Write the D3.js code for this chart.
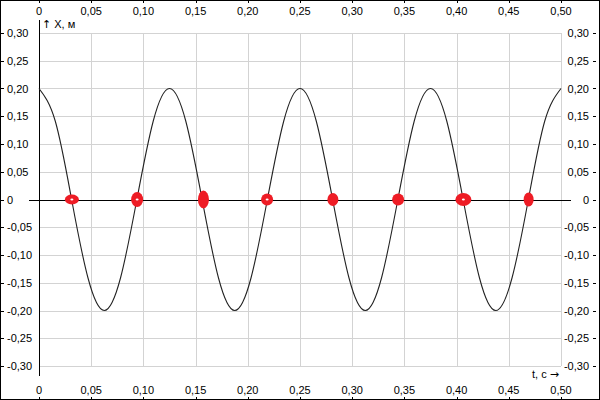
<!DOCTYPE html>
<html><head><meta charset="utf-8">
<script src="https://cdn.jsdelivr.net/npm/d3@7"></script>
<style>
html,body{margin:0;padding:0;background:#fff;}
svg{display:block;}
text{font-family:"Liberation Sans",Arial,sans-serif;font-size:11px;fill:#000;}
tspan.arrow{font-family:"DejaVu Sans",sans-serif;font-size:11px;}
</style></head>
<body>
<svg id="chart" width="600" height="400"></svg>
<script>
// ---- data ----
const xTickLabels = ["0","0,05","0,10","0,15","0,20","0,25","0,30","0,35","0,40","0,45","0,50"];
const xTicks = [0,0.05,0.10,0.15,0.20,0.25,0.30,0.35,0.40,0.45,0.50];
const yTickLabels = ["0,30","0,25","0,20","0,15","0,10","0,05","0","-0,05","-0,10","-0,15","-0,20","-0,25","-0,30"];
const yTicks = [0.30,0.25,0.20,0.15,0.10,0.05,0,-0.05,-0.10,-0.15,-0.20,-0.25,-0.30];
const curveT = [0,0.015625,0.03125,0.046875,0.0625,0.078125,0.09375,0.109375,
  0.125,0.140625,0.15625,0.171875,0.1875,0.203125,0.21875,0.234375,
  0.25,0.265625,0.28125,0.296875,0.3125,0.328125,0.34375,0.359375,
  0.375,0.390625,0.40625,0.421875,0.4375,0.453125,0.46875,0.484375,0.5];
const curveX = [0.20,0.141,0,-0.141,-0.20,-0.141,0,0.141,
  0.20,0.141,0,-0.141,-0.20,-0.141,0,0.141,
  0.20,0.141,0,-0.141,-0.20,-0.141,0,0.141,
  0.20,0.141,0,-0.141,-0.20,-0.141,0,0.141,0.20];
const dotT = [0.0315,0.0940,0.1575,0.2185,0.2815,0.3440,0.4065,0.4690];
const dotX = [0,0,0,0,0,0,0,0];
const xAxisTitle = ["t, c ", "\u2192"];
const yAxisTitle = ["\u2191", " X, м"];

// ---- styling (not data) ----
const dotRx = [7,6,5.5,6,5.5,6,8,5];
const dotRy = [5,7.5,9,6,6.5,6,6.5,7];
const dotHole = [true,true,false,true,false,false,true,false];

const svg = d3.select("#chart");
const W = 600, H = 400;
const x = d3.scaleLinear().domain([0,0.5]).range([39,561]);
const y = d3.scaleLinear().domain([-0.3,0.3]).range([366,33]);

svg.append("rect").attr("x",0.5).attr("y",0.5).attr("width",W-1).attr("height",H-1)
  .attr("fill","#fff").attr("stroke","#000");

// gridlines
const grid = svg.append("g").attr("stroke","#d3d3d3").attr("stroke-width",1).attr("shape-rendering","crispEdges");
grid.selectAll("line.v").data(xTicks).join("line").attr("class","v")
  .attr("x1",d=>Math.round(x(d))+0.5).attr("x2",d=>Math.round(x(d))+0.5)
  .attr("y1",y(0.3)).attr("y2",y(-0.3));
grid.selectAll("line.h").data(yTicks).join("line").attr("class","h")
  .attr("y1",d=>Math.round(y(d))+0.5).attr("y2",d=>Math.round(y(d))+0.5)
  .attr("x1",x(0)).attr("x2",x(0.5));

// axes lines
svg.append("line").attr("x1",Math.round(x(0))+0.5).attr("x2",Math.round(x(0))+0.5)
  .attr("y1",20).attr("y2",376).attr("stroke","#000").attr("shape-rendering","crispEdges");
svg.append("line").attr("x1",29).attr("x2",571)
  .attr("y1",Math.round(y(0))+0.5).attr("y2",Math.round(y(0))+0.5)
  .attr("stroke","#000").attr("shape-rendering","crispEdges");

// x tick labels top & bottom
const xg = svg.append("g");
xTicks.forEach((t,i)=>{
  const px = x(t);
  xg.append("text").attr("x",px).attr("y",15).attr("text-anchor","middle").text(xTickLabels[i]);
  xg.append("text").attr("x",px).attr("y",394).attr("text-anchor","middle").text(xTickLabels[i]);
  xg.append("line").attr("x1",Math.round(px)+0.5).attr("x2",Math.round(px)+0.5).attr("y1",0).attr("y2",3).attr("stroke","#000");
  xg.append("line").attr("x1",Math.round(px)+0.5).attr("x2",Math.round(px)+0.5).attr("y1",397).attr("y2",400).attr("stroke","#000");
});
// y tick labels left & right
const yg = svg.append("g");
yTicks.forEach((v,i)=>{
  const py = y(v);
  yg.append("text").attr("x",7).attr("y",py+4).attr("text-anchor","start").text(yTickLabels[i]);
  yg.append("text").attr("x",589).attr("y",py+4).attr("text-anchor","end").text(yTickLabels[i]);
  yg.append("line").attr("x1",1).attr("x2",4).attr("y1",Math.round(py)+0.5).attr("y2",Math.round(py)+0.5).attr("stroke","#000");
  yg.append("line").attr("x1",593).attr("x2",596).attr("y1",Math.round(py)+0.5).attr("y2",Math.round(py)+0.5).attr("stroke","#000");
});

// axis titles
const yt = svg.append("text").attr("x",42).attr("y",28);
yt.append("tspan").attr("class","arrow").text(yAxisTitle[0]);
yt.append("tspan").text(yAxisTitle[1]);
const xt = svg.append("text").attr("x",559).attr("y",378).attr("text-anchor","end");
xt.append("tspan").text(xAxisTitle[0]);
xt.append("tspan").attr("class","arrow").text(xAxisTitle[1]);

// curve
const pts = curveT.map((t,i)=>[t,curveX[i]]);
svg.append("path").datum(pts)
  .attr("d",d3.line().x(d=>x(d[0])).y(d=>y(d[1])).curve(d3.curveNatural))
  .attr("fill","none").attr("stroke","#222").attr("stroke-width",1.1);

// dots
const dg = svg.append("g");
dotT.forEach((t,i)=>{
  dg.append("ellipse").attr("cx",x(t)).attr("cy",y(dotX[i])).attr("rx",dotRx[i]).attr("ry",dotRy[i]).attr("fill","#ee1c25");
  if(dotHole[i]) dg.append("ellipse").attr("cx",x(t)).attr("cy",y(dotX[i])).attr("rx",1.5).attr("ry",1).attr("fill","#fff");
});
</script>
</body></html>
